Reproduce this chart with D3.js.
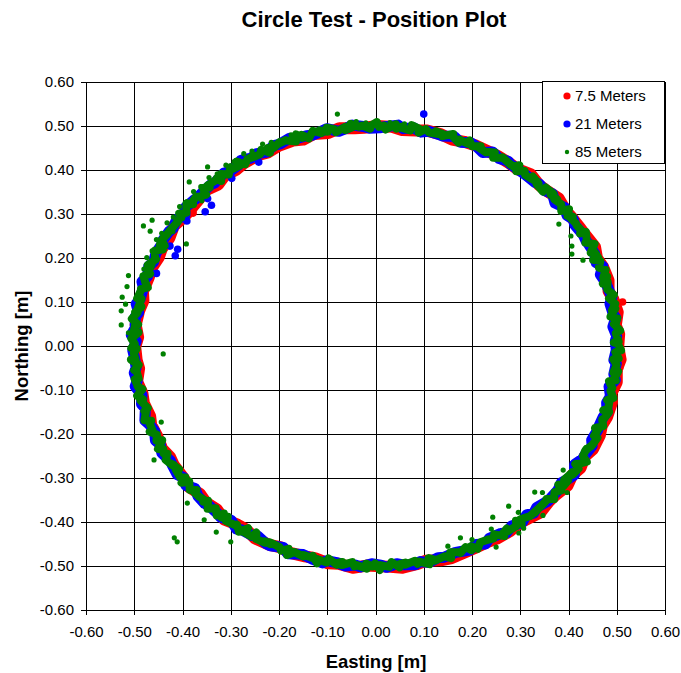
<!DOCTYPE html>
<html>
<head>
<meta charset="utf-8">
<script src="https://cdn.jsdelivr.net/npm/d3@7"></script>
<style>
body { margin: 0; background: #fff; }
text { font-family: Arial, "Liberation Sans", sans-serif; fill: #000; }
</style>
</head>
<body>
<svg id="chart" width="681" height="673"></svg>
<script>
/*
Circle test - position plot
*/

// Axis ticks (same for both axes)
const tickValues = [-0.6, -0.5, -0.4, -0.3, -0.2, -0.1, 0, 0.1, 0.2, 0.3, 0.4, 0.5, 0.6];
const tickLabels = ["-0.60","-0.50","-0.40","-0.30","-0.20","-0.10","0.00","0.10","0.20","0.30","0.40","0.50","0.60"];

// Series names
const seriesNames = ["7.5 Meters", "21 Meters", "85 Meters"];

// 7.5 Meters - [easting, northing], in order round the circle
const red = [
  [.503,-.002],[.505,.027],[.498,.047],[.502,.077],[.493,.106],[.483,.125],[.483,.149],[.472,.179],[.459,.200],[.455,.225],
  [.436,.251],[.425,.267],[.406,.293],[.394,.308],[.380,.335],[.356,.352],[.339,.366],[.322,.390],[.294,.402],[.278,.415],
  [.253,.432],[.236,.441],[.205,.457],[.184,.464],[.159,.469],[.136,.481],[.105,.490],[.084,.490],[.055,.491],[.034,.498],
  [.005,.500],[-.024,.496],[-.043,.495],[-.075,.495],[-.098,.484],[-.128,.482],[-.150,.469],[-.171,.467],[-.201,.455],[-.223,.440],
  [-.243,.434],[-.272,.416],[-.288,.401],[-.312,.388],[-.326,.367],[-.352,.354],[-.367,.332],[-.385,.308],[-.398,.292],[-.418,.273],
  [-.427,.246],[-.443,.221],[-.449,.202],[-.464,.177],[-.470,.156],[-.482,.124],[-.481,.103],[-.490,.080],[-.497,.048],[-.492,.020],
  [-.498,-.002],[-.495,-.032],[-.490,-.051],[-.494,-.081],[-.483,-.108],[-.480,-.130],[-.467,-.160],[-.465,-.179],[-.452,-.206],[-.442,-.234],
  [-.426,-.252],[-.418,-.271],[-.399,-.298],[-.386,-.321],[-.364,-.336],[-.351,-.356],[-.329,-.371],[-.314,-.394],[-.286,-.406],[-.268,-.417],
  [-.250,-.437],[-.220,-.452],[-.198,-.457],[-.177,-.470],[-.146,-.478],[-.126,-.482],[-.098,-.494],[-.077,-.495],[-.047,-.504],[-.018,-.499],
  [.002,-.500],[.031,-.502],[.056,-.504],[.085,-.496],[.105,-.488],[.135,-.487],[.158,-.482],[.187,-.468],[.206,-.459],[.233,-.445],
  [.251,-.438],[.280,-.420],[.298,-.403],[.315,-.393],[.342,-.378],[.359,-.354],[.374,-.338],[.398,-.317],[.408,-.293],[.425,-.277],
  [.434,-.251],[.451,-.234],[.465,-.203],[.469,-.181],[.480,-.161],[.490,-.128],[.489,-.107],[.500,-.082],[.500,-.053],[.508,-.031]
];
const redScatter = [[.512,.100],[.506,-.050],[-.378,.302]];

// 21 Meters
const blue = [
  [.497,.011],[.500,.022],[.492,.044],[.498,.064],[.493,.072],[.486,.096],[.490,.110],[.481,.134],[.478,.143],[.466,.162],
  [.471,.181],[.457,.190],[.454,.211],[.442,.231],[.436,.240],[.431,.252],[.413,.275],[.410,.288],[.397,.297],[.392,.315],
  [.372,.325],[.367,.346],[.351,.353],[.340,.368],[.330,.372],[.311,.389],[.301,.397],[.280,.413],[.275,.420],[.256,.426],
  [.243,.441],[.222,.440],[.210,.453],[.197,.462],[.176,.463],[.163,.476],[.140,.477],[.133,.480],[.110,.488],[.094,.486],
  [.079,.496],[.057,.494],[.047,.502],[.024,.499],[.009,.496],
  [-.012,.495],[-.025,.499],[-.048,.502],[-.062,.494],[-.076,.488],[-.101,.494],[-.112,.488],[-.131,.479],[-.143,.478],[-.168,.470],
  [-.178,.472],[-.198,.459],[-.212,.455],[-.225,.441],[-.246,.437],[-.258,.427],[-.279,.422],[-.284,.411],[-.303,.396],[-.314,.393],
  [-.333,.371],[-.342,.366],[-.352,.356],[-.369,.337],[-.377,.331],[-.395,.314],[-.395,.298],[-.412,.288],[-.420,.267],[-.428,.260],
  [-.441,.240],[-.443,.231],[-.455,.211],[-.460,.191],[-.470,.181],[-.472,.159],[-.484,.146],[-.481,.132],[-.488,.106],[-.496,.096],
  [-.491,.076],[-.498,.066],[-.498,.041],[-.506,.025],[-.496,.011],
  [-.503,-.010],[-.500,-.024],[-.496,-.049],[-.500,-.061],[-.494,-.080],[-.498,-.092],[-.484,-.111],[-.485,-.132],[-.477,-.142],[-.478,-.169],
  [-.468,-.179],[-.458,-.193],[-.456,-.215],[-.446,-.224],[-.443,-.243],[-.425,-.261],[-.421,-.271],[-.411,-.292],[-.398,-.299],[-.393,-.317],
  [-.374,-.324],[-.368,-.341],[-.354,-.358],[-.344,-.364],[-.327,-.381],[-.321,-.389],[-.299,-.396],[-.288,-.416],[-.277,-.418],[-.255,-.431],
  [-.244,-.432],[-.227,-.449],[-.218,-.454],[-.191,-.458],[-.182,-.472],[-.162,-.473],[-.150,-.474],[-.130,-.485],[-.110,-.493],[-.101,-.488],
  [-.078,-.493],[-.063,-.500],[-.041,-.498],[-.031,-.502],[-.008,-.495],
  [.011,-.498],[.023,-.503],[.044,-.495],[.055,-.497],[.082,-.497],[.093,-.490],[.111,-.492],[.130,-.481],[.142,-.480],[.166,-.469],
  [.177,-.467],[.195,-.464],[.208,-.451],[.228,-.450],[.236,-.437],[.260,-.426],[.271,-.425],[.282,-.409],[.304,-.401],[.313,-.384],
  [.328,-.380],[.334,-.367],[.358,-.352],[.363,-.346],[.378,-.328],[.385,-.311],[.398,-.303],[.412,-.293],[.413,-.269],[.429,-.257],
  [.435,-.246],[.449,-.227],[.448,-.214],[.461,-.190],[.464,-.180],[.472,-.161],[.480,-.151],[.479,-.129],[.487,-.114],[.484,-.092],
  [.497,-.077],[.494,-.064],[.499,-.040],[.494,-.032],[.499,-.009]
];
const blueScatter = [
  [.100,.527],[-.353,.305],[-.410,.220],[-.415,.205],[-.340,.320],
  [-.242,.418],[-.298,.381],[-.348,.335],[-.391,.284],[-.426,.227],[-.454,.165]
];

// 85 Meters
const green = [
  [.502,.005],[.494,.008],[.504,.010],[.498,.029],[.507,.035],[.494,.050],[.497,.048],[.501,.063],[.487,.067],[.497,.085],
  [.490,.081],[.497,.096],[.484,.108],[.488,.110],[.494,.116],[.480,.129],[.481,.146],[.471,.142],[.480,.158],[.472,.155],
  [.477,.173],[.463,.178],[.466,.193],[.451,.196],[.462,.200],[.453,.215],[.446,.212],[.454,.232],[.435,.235],[.438,.238],
  [.436,.259],[.424,.256],[.430,.259],[.417,.274],[.415,.279],[.402,.294],[.409,.294],[.398,.296],[.401,.311],[.385,.307],
  [.385,.322],[.371,.333],[.377,.333],[.363,.344],[.369,.346],[.353,.360],[.347,.351],[.334,.368],[.338,.369],[.326,.385],
  [.327,.378],[.310,.389],[.309,.398],[.292,.397],[.298,.411],[.287,.407],[.276,.416],[.280,.412],[.263,.429],[.261,.428],
  [.244,.428],[.247,.440],[.234,.441],[.229,.440],[.211,.453],[.218,.454],[.200,.454],[.195,.467],[.191,.460],[.174,.469],
  [.172,.462],[.161,.476],[.161,.482],[.139,.477],[.141,.481],[.125,.488],[.130,.482],[.111,.485],[.104,.493],[.089,.485],
  [.092,.493],[.075,.502],[.072,.490],[.053,.496],[.056,.499],[.043,.494],[.042,.504],[.021,.492],[.018,.501],[.007,.498],
  [.003,.509],[-.014,.498],[-.011,.494],[-.028,.501],[-.035,.498],[-.052,.505],[-.048,.497],[-.062,.491],[-.063,.498],[-.082,.486],
  [-.085,.493],[-.101,.496],[-.099,.487],[-.115,.490],[-.112,.484],[-.130,.489],[-.138,.472],[-.153,.480],[-.152,.473],[-.165,.481],
  [-.165,.465],[-.184,.467],[-.186,.468],[-.204,.458],[-.199,.463],[-.211,.450],[-.223,.450],[-.219,.439],[-.237,.446],[-.239,.436],
  [-.256,.428],[-.253,.432],[-.266,.424],[-.270,.413],[-.288,.419],[-.280,.411],[-.297,.402],[-.301,.406],[-.304,.390],[-.320,.391],
  [-.320,.375],[-.330,.380],[-.329,.378],[-.348,.365],[-.344,.360],[-.358,.359],[-.351,.344],[-.367,.339],[-.372,.339],[-.383,.322],
  [-.378,.322],[-.392,.323],[-.392,.303],[-.407,.301],[-.401,.296],[-.411,.283],[-.408,.285],[-.424,.265],[-.423,.266],[-.431,.256],
  [-.431,.255],[-.443,.241],[-.437,.228],[-.447,.230],[-.441,.219],[-.457,.217],[-.457,.199],[-.455,.197],[-.472,.184],[-.464,.186],
  [-.472,.165],[-.467,.164],[-.481,.159],[-.477,.144],[-.472,.133],[-.486,.129],[-.485,.129],[-.494,.108],[-.485,.107],[-.492,.087],
  [-.485,.089],[-.498,.077],[-.493,.076],[-.505,.062],[-.492,.049],[-.498,.048],[-.502,.028],[-.491,.031],[-.506,.017],[-.499,.005],
  [-.506,-.005],[-.495,-.006],[-.501,-.017],[-.497,-.032],[-.507,-.031],[-.491,-.043],[-.500,-.055],[-.496,-.054],[-.491,-.074],[-.499,-.076],
  [-.491,-.095],[-.493,-.092],[-.483,-.098],[-.494,-.113],[-.482,-.121],[-.487,-.124],[-.472,-.141],[-.479,-.148],[-.476,-.151],[-.479,-.169],
  [-.465,-.170],[-.470,-.171],[-.462,-.192],[-.468,-.195],[-.453,-.201],[-.454,-.215],[-.442,-.214],[-.451,-.234],[-.440,-.234],[-.439,-.244],
  [-.431,-.245],[-.435,-.259],[-.420,-.272],[-.420,-.269],[-.407,-.280],[-.414,-.281],[-.405,-.298],[-.394,-.299],[-.402,-.311],[-.386,-.308],
  [-.385,-.327],[-.371,-.327],[-.377,-.331],[-.365,-.343],[-.351,-.352],[-.357,-.354],[-.347,-.352],[-.348,-.370],[-.331,-.369],[-.329,-.385],
  [-.314,-.381],[-.319,-.390],[-.306,-.388],[-.310,-.398],[-.289,-.408],[-.287,-.406],[-.283,-.422],[-.264,-.414],[-.271,-.424],[-.257,-.433],
  [-.247,-.424],[-.247,-.439],[-.229,-.447],[-.229,-.444],[-.219,-.450],[-.219,-.446],[-.199,-.457],[-.196,-.465],[-.180,-.461],[-.183,-.475],
  [-.169,-.469],[-.169,-.468],[-.150,-.478],[-.149,-.475],[-.129,-.482],[-.130,-.477],[-.121,-.494],[-.119,-.485],[-.101,-.492],[-.097,-.483],
  [-.081,-.497],[-.083,-.494],[-.069,-.491],[-.070,-.498],[-.048,-.491],[-.044,-.501],[-.039,-.498],[-.018,-.506],[-.019,-.495],[-.006,-.501],
  [-.001,-.494],[.009,-.509],[.010,-.498],[.029,-.502],[.033,-.491],[.050,-.503],[.047,-.497],[.062,-.492],[.061,-.497],[.082,-.488],
  [.087,-.495],[.091,-.490],[.112,-.496],[.110,-.482],[.124,-.486],[.123,-.488],[.143,-.478],[.145,-.478],[.157,-.482],[.155,-.469],
  [.178,-.469],[.176,-.470],[.187,-.457],[.199,-.464],[.198,-.455],[.212,-.461],[.217,-.446],[.233,-.440],[.228,-.442],[.245,-.437],
  [.246,-.428],[.267,-.432],[.264,-.426],[.272,-.415],[.274,-.421],[.292,-.409],[.291,-.397],[.303,-.404],[.300,-.394],[.319,-.387],
  [.320,-.387],[.335,-.372],[.330,-.379],[.342,-.365],[.345,-.362],[.356,-.349],[.354,-.348],[.370,-.348],[.371,-.332],[.385,-.328],
  [.379,-.315],[.389,-.319],[.399,-.306],[.391,-.304],[.408,-.287],[.408,-.293],[.421,-.279],[.414,-.268],[.425,-.267],[.438,-.263],
  [.430,-.250],[.437,-.234],[.434,-.239],[.450,-.224],[.448,-.227],[.460,-.209],[.453,-.204],[.462,-.189],[.455,-.186],[.472,-.182],
  [.470,-.167],[.470,-.170],[.484,-.150],[.472,-.146],[.482,-.142],[.486,-.120],[.480,-.123],[.493,-.118],[.487,-.102],[.491,-.096],
  [.484,-.080],[.498,-.078],[.494,-.075],[.503,-.058],[.493,-.060],[.500,-.043],[.493,-.030],[.504,-.028],[.497,-.014],[.509,-.010]
];
// 85 m fixes off the main track
const greenScatter = [
  [-.079,.527],[.000,.505],[.030,.508],[-.040,.510],[.060,.505],[-.020,.507],
  [-.527,.080],[-.527,.048],[-.525,.111],[-.440,-.018],[-.444,-.173],[-.515,.135],[-.518,.095],[-.512,.030],[-.512,.160],
  [-.386,.373],[-.348,.407],[-.463,.286],[-.481,.273],[-.467,.261],[-.392,.232],[-.360,.330],[-.400,.290],[-.420,.260],
  [-.175,.480],[-.216,.463],[-.256,.443],[-.293,.419],[-.328,.391],[-.362,.362],[-.391,.328],[-.419,.293],[-.443,.256],[-.463,.216],[-.480,.175],
  [-.234,.459],[-.273,.437],[-.310,.411],[-.345,.383],[-.377,.351],[-.406,.317],[-.432,.280],[-.454,.242],[-.474,.201],
  [-.417,-.436],[-.411,-.445],[-.459,-.259],[-.390,-.357],[-.330,-.423],[-.355,-.395],[-.300,-.445],
  [.276,-.364],[.243,-.389],[.250,-.457],[.176,-.436],[.307,-.414],[.330,-.332],[.200,-.440],[.150,-.455],
  [.297,-.425],[.347,-.385],[.397,-.333],[.240,-.416],[.296,-.378],[.346,-.333],[.389,-.282],
  [.380,.277],[.407,.227],[.407,.209],[.430,.195],[.405,.250]
];

const seriesTrack = [red, blue, green];
const seriesScatter = [redScatter, blueScatter, greenScatter];
const seriesColors = ["#ff0000", "#0000ff", "#008000"];
const markerRadius = [3.8, 3.8, 2.6];
const trackWidth = [12, 11, 8];

// Select SVG
const svg = d3.select('#chart');
const width = +svg.attr('width'),
    height = +svg.attr('height');

// Plot area
const plot = {left: 86, right: 665, top: 82, bottom: 610};

const x = d3.scaleLinear().domain([-0.6, 0.6]).range([plot.left, plot.right]);
const y = d3.scaleLinear().domain([-0.6, 0.6]).range([plot.bottom, plot.top]);

svg.append('rect')
    .attr('width', width)
    .attr('height', height)
    .attr('fill', '#fff');

// Gridlines
const grid = svg.append('g').attr('shape-rendering', 'crispEdges');
grid.selectAll('line.v')
    .data(tickValues)
    .join('line')
    .attr('class', 'v')
    .attr('x1', d => Math.round(x(d)) + 0.5)
    .attr('x2', d => Math.round(x(d)) + 0.5)
    .attr('y1', plot.top)
    .attr('y2', plot.bottom)
    .attr('stroke', '#000');
grid.selectAll('line.h')
    .data(tickValues)
    .join('line')
    .attr('class', 'h')
    .attr('x1', plot.left)
    .attr('x2', plot.right)
    .attr('y1', d => Math.round(y(d)) + 0.5)
    .attr('y2', d => Math.round(y(d)) + 0.5)
    .attr('stroke', '#000');

// Axes
const xAxis = d3.axisBottom(x)
    .tickValues(tickValues)
    .tickFormat((d, i) => tickLabels[i])
    .tickSize(5)
    .tickSizeOuter(0)
    .tickPadding(11);
const yAxis = d3.axisLeft(y)
    .tickValues(tickValues)
    .tickFormat((d, i) => tickLabels[i])
    .tickSize(5)
    .tickSizeOuter(0)
    .tickPadding(7);

svg.append('g')
    .attr('transform', `translate(0,${plot.bottom})`)
    .call(xAxis);
svg.append('g')
    .attr('transform', `translate(${plot.left},0)`)
    .call(yAxis);

svg.selectAll('.tick text')
    .style('font-size', '15px')
    .style('font-family', 'Arial, "Liberation Sans", sans-serif')
    .attr('fill', '#000');
svg.selectAll('.domain, .tick line')
    .attr('stroke', '#000')
    .attr('shape-rendering', 'crispEdges');

// Dense fixes: a thick trail through the fixes, then the fixes themselves
const trail = d3.line()
    .x(d => x(d[0]))
    .y(d => y(d[1]))
    .curve(d3.curveLinearClosed);

seriesTrack.forEach(function(data, s){
    const g = svg.append('g');
    g.append('path')
        .datum(data)
        .attr('d', trail)
        .attr('fill', 'none')
        .attr('stroke', seriesColors[s])
        .attr('stroke-width', trackWidth[s])
        .attr('stroke-linejoin', 'round');
    g.selectAll('circle')
        .data(data.concat(seriesScatter[s]))
        .join('circle')
        .attr('cx', d => x(d[0]))
        .attr('cy', d => y(d[1]))
        .attr('r', markerRadius[s])
        .attr('fill', seriesColors[s]);
});

// Legend
const legend = svg.append('g');
legend.append('rect')
    .attr('x', 542.5)
    .attr('y', 81.5)
    .attr('width', 122)
    .attr('height', 82)
    .attr('fill', '#fff')
    .attr('stroke', '#000');
seriesNames.forEach(function(name, i){
    const ly = 96 + i * 28;
    legend.append('circle')
        .attr('cx', 567)
        .attr('cy', ly)
        .attr('r', i == 2 ? 2.2 : 3.6)
        .attr('fill', seriesColors[i]);
    legend.append('text')
        .attr('x', 575)
        .attr('y', ly + 5)
        .style('font-size', '15px')
        .text(name);
});

// Title and axis titles
svg.append('text')
    .attr('x', 374)
    .attr('y', 27)
    .attr('text-anchor', 'middle')
    .style('font-size', '22px')
    .style('font-weight', 'bold')
    .text('Circle Test - Position Plot');

svg.append('text')
    .attr('x', 376)
    .attr('y', 668)
    .attr('text-anchor', 'middle')
    .style('font-size', '18.5px')
    .style('font-weight', 'bold')
    .text('Easting [m]');

svg.append('text')
    .attr('transform', 'translate(28,346) rotate(-90)')
    .attr('text-anchor', 'middle')
    .style('font-size', '18.5px')
    .style('font-weight', 'bold')
    .text('Northing [m]');
</script>
</body>
</html>
